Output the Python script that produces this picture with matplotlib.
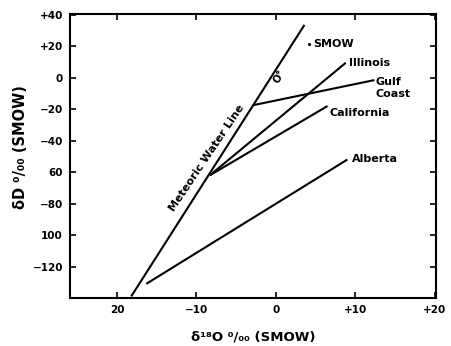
import matplotlib
matplotlib.use("Agg")
import matplotlib.pyplot as plt

plt.rcParams['font.family'] = ['DejaVu Sans']
plt.rcParams['font.weight'] = 'bold'

# Data (delta18O, deltaD) endpoints of each line
mwl_x = [-18.2, 3.6]
mwl_y = [-139.0, 33.6]
alberta_x = [-16.3, 9.0]
alberta_y = [-131.0, -52.0]
california_x = [-8.3, 6.5]
california_y = [-62.0, -18.0]
illinois_x = [-8.3, 8.8]
illinois_y = [-62.0, 9.5]
gulf_x = [-2.9, 12.4]
gulf_y = [-17.5, -1.5]

xticks = [-20, -10, 0, 10, 20]
xticklabels = ["20", "\u221210", "0", "+10", "+20"]
yticks = [40, 20, 0, -20, -40, -60, -80, -100, -120]
yticklabels = ["+40", "+20", "0", "\u221220", "\u221240", "60", "\u221280", "100", "\u2212120"]

fig = plt.figure(figsize=(4.52, 3.46), dpi=100)
ax = fig.add_axes([70/452, 1-298/346, (436-70)/452, (298-14)/346])

lw = 1.5
for xs, ys in [(mwl_x, mwl_y), (alberta_x, alberta_y), (california_x, california_y),
               (illinois_x, illinois_y), (gulf_x, gulf_y)]:
    ax.plot(xs, ys, color='black', lw=lw, solid_capstyle='butt', clip_on=True)

ax.set_xlim(-25.9, 20.15)
ax.set_ylim(-140, 40.5)
ax.set_xticks(xticks)
ax.set_xticklabels(xticklabels)
ax.set_yticks(yticks)
ax.set_yticklabels(yticklabels)
ax.tick_params(direction='in', top=True, right=True, length=4, width=1.2,
               labelsize=7.5, pad=5)
for lab in ax.get_xticklabels() + ax.get_yticklabels():
    lab.set_fontweight('bold')
for s in ax.spines.values():
    s.set_linewidth(1.5)

fs = 8
ax.text(4.7, 21.4, "SMOW", fontsize=fs, fontweight='bold', ha='left', va='center')
ax.plot([4.2], [21.4], 'o', color='black', ms=1.2)
ax.text(0.4, 0.5, "O\u00b0", fontsize=7.5, fontweight='bold', rotation=60,
        ha='center', va='center')
ax.text(9.2, 9.5, "Illinois", fontsize=fs, fontweight='bold', ha='left', va='center')
ax.text(12.6, -6.5, "Gulf\nCoast", fontsize=fs, fontweight='bold', ha='left',
        va='center', linespacing=1.3)
ax.text(6.8, -22.2, "California", fontsize=fs, fontweight='bold', ha='left', va='center')
ax.text(9.6, -51.8, "Alberta", fontsize=fs, fontweight='bold', ha='left', va='center')
ax.text(-8.7, -51.2, "Meteoric Water Line", fontsize=fs, fontweight='bold',
        rotation=56, ha='center', va='center', rotation_mode='anchor')

ax.set_xlabel("\u03b4\u00b9\u2078O \u2070/\u2080\u2080 (SMOW)", fontsize=9.5,
              fontweight='bold')
ax.set_ylabel("\u03b4D \u2070/\u2080\u2080 (SMOW)", fontsize=10.5,
              fontweight='bold')
ax.xaxis.set_label_coords(0.5, -0.113)
ax.yaxis.set_label_coords(-0.115, 0.53)

fig.savefig("out.png", dpi=100)
